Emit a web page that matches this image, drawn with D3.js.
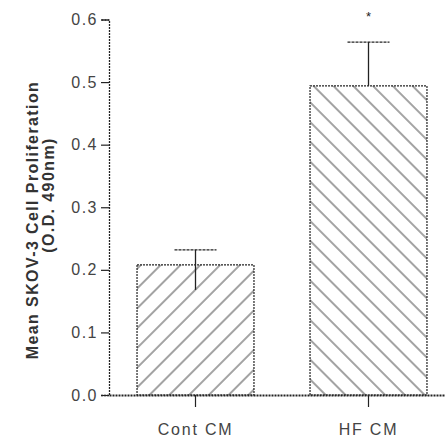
<!DOCTYPE html>
<html><head><meta charset="utf-8">
<script src="https://cdn.jsdelivr.net/npm/d3@7"></script>
<style>
body{margin:0;background:#fff;}
svg text{font-family:Arial,"Liberation Sans",sans-serif;fill:#222;}
</style></head>
<body><svg id="c" width="445" height="445"></svg>
<script>
const categories = ["Cont CM", "HF CM"];
const means = [0.208, 0.494];
const errHigh = [0.232, 0.564];
const errLow = [0.168, 0.494];
const hatches = ["fwd", "back"];
const yTicks = [0, 0.1, 0.2, 0.3, 0.4, 0.5, 0.6];
const yTitle = ["Mean SKOV-3 Cell Proliferation", "(O.D. 490nm)"];
const sigMarks = ["", "*"];

const svg = d3.select("#c");
const x = d3.scaleBand().domain(categories).range([109, 455]).paddingInner(0.324).paddingOuter(0.162);
const y = d3.scaleLinear().domain([0, 0.6]).range([395, 19.5]);

const defs = svg.append("defs");
[["fwd", 45], ["back", -45]].forEach(([id, ang]) => {
  const p = defs.append("pattern").attr("id", id).attr("patternUnits", "userSpaceOnUse")
    .attr("width", 14).attr("height", 14).attr("patternTransform", `rotate(${ang})`);
  p.append("line").attr("x1", 7).attr("x2", 7).attr("y1", -1).attr("y2", 15)
    .attr("stroke", "#333").attr("stroke-width", 0.9);
});

// bars
svg.selectAll("rect.bar").data(categories).enter().append("rect")
  .attr("class", "bar")
  .attr("x", d => x(d)).attr("width", x.bandwidth())
  .attr("y", (d, i) => y(means[i])).attr("height", (d, i) => y(0) - y(means[i]))
  .attr("fill", (d, i) => `url(#${hatches[i]})`)
  .attr("stroke", "#222").attr("stroke-width", 1.2).attr("stroke-dasharray", "2,1");

// error bars
const cx = d => x(d) + x.bandwidth() / 2;
svg.selectAll("line.err").data(categories).enter().append("line")
  .attr("x1", cx).attr("x2", cx)
  .attr("y1", (d, i) => y(errHigh[i])).attr("y2", (d, i) => y(errLow[i]))
  .attr("stroke", "#222").attr("stroke-width", 1.3);
svg.selectAll("line.cap").data(categories).enter().append("line")
  .attr("x1", d => cx(d) - 21).attr("x2", d => cx(d) + 21)
  .attr("y1", (d, i) => y(errHigh[i])).attr("y2", (d, i) => y(errHigh[i]))
  .attr("stroke", "#222").attr("stroke-width", 1.2).attr("stroke-dasharray", "3,1");

// significance
svg.selectAll("text.sig").data(categories).enter().append("text")
  .attr("x", cx).attr("y", 21).attr("text-anchor", "middle")
  .attr("font-size", 13).text((d, i) => sigMarks[i]);

// y axis
const ya = svg.append("g").attr("transform", "translate(109,0)")
  .call(d3.axisLeft(y).tickValues(yTicks).tickFormat(d3.format(".1f")).tickSize(8).tickPadding(3));
ya.select(".domain").attr("stroke", "#222").attr("stroke-width", 1.3).attr("stroke-dasharray", "2,1");
ya.selectAll(".tick line").attr("stroke", "#222").attr("stroke-width", 1.2);
ya.selectAll(".tick text").attr("font-size", 16).attr("letter-spacing", "1.5px").style("fill", "#444");

// x axis
const xa = svg.append("g").attr("transform", "translate(0,395)")
  .call(d3.axisBottom(x).tickSize(12).tickPadding(17).tickSizeOuter(0));
xa.select(".domain").attr("stroke", "#222").attr("stroke-width", 2.2).attr("stroke-dasharray", "2,1");
xa.selectAll(".tick line").attr("stroke", "#222").attr("stroke-width", 1.2);
xa.selectAll(".tick text").attr("font-size", 16).attr("letter-spacing", "1.8px").style("fill", "#444");

// y title
const ty = [220, 195], tx = [38, 54];
yTitle.forEach((t, i) => {
  svg.append("text").attr("transform", `translate(${tx[i]},${ty[i]}) rotate(-90)`)
    .attr("text-anchor", "middle").attr("font-size", 16).attr("font-weight", "bold")
    .attr("letter-spacing", "1.4px").style("fill", "#333").text(t);
});
</script></body></html>
